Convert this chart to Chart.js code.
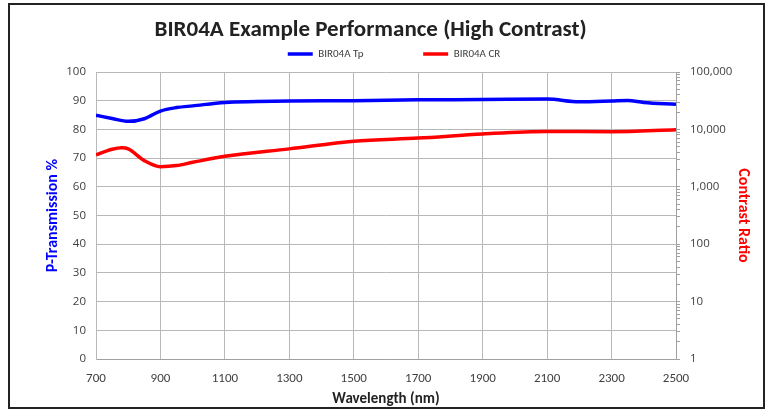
<!DOCTYPE html>
<html>
<head>
<meta charset="utf-8">
<script src="https://cdn.jsdelivr.net/npm/chart.js@4"></script>
<style>
  html, body { margin: 0; padding: 0; background: #fff; }
  #wrap { position: relative; width: 770px; height: 411px; }
  #frame { position: absolute; left: 8px; top: 3px; width: 753px; height: 402px; border: 2px solid #222; pointer-events: none; }
  canvas { position: absolute; left: 0; top: 0; }
</style>
</head>
<body>
<div id="wrap">
  <canvas id="chart" width="770" height="411"></canvas>
  <div id="frame"></div>
</div>
<script>
const tpWavelengths = [700, 750, 800, 850, 900, 950, 1000, 1100, 1200, 1300, 1500, 1700, 1900, 2100, 2200, 2300, 2350, 2400, 2500];
const tpValues = [84.9, 83.8, 82.8, 83.7, 86.4, 87.6, 88.2, 89.4, 89.7, 89.9, 90.0, 90.3, 90.4, 90.6, 89.6, 89.9, 90.1, 89.4, 88.8];

const crWavelengths = [700, 750, 780, 800, 850, 900, 950, 1000, 1100, 1300, 1500, 1700, 1900, 2100, 2300, 2500];
const crValues = [3600, 4500, 4780, 4580, 2860, 2240, 2340, 2670, 3400, 4580, 6230, 7060, 8340, 9230, 9120, 9880];

const xTicks = [700, 900, 1100, 1300, 1500, 1700, 1900, 2100, 2300, 2500];
const crMajorTicks = [1, 10, 100, 1000, 10000, 100000];

const FONT = "'Carlito', 'Liberation Sans Narrow', 'Liberation Sans', sans-serif";
const AXIS_FONT = "'Open Sans', 'Liberation Sans', sans-serif";
const TICK_COLOR = '#404040';
const GRID_COLOR = '#b8b8b8';

function pts(xs, ys) {
  return xs.map((x, i) => ({ x, y: ys[i] }));
}

new Chart(document.getElementById('chart').getContext('2d'), {
  type: 'line',
  data: {
    datasets: [{
      label: 'BIR04A Tp',
      data: pts(tpWavelengths, tpValues),
      borderColor: '#0000ff',
      backgroundColor: '#0000ff',
      borderWidth: 3.5,
      pointRadius: 0,
      cubicInterpolationMode: 'monotone',
      yAxisID: 'y'
    }, {
      label: 'BIR04A CR',
      data: pts(crWavelengths, crValues),
      borderColor: '#ff0000',
      backgroundColor: '#ff0000',
      borderWidth: 3.5,
      pointRadius: 0,
      cubicInterpolationMode: 'monotone',
      yAxisID: 'y2'
    }]
  },
  options: {
    responsive: false,
    animation: false,
    layout: { padding: { left: 30, right: 12, top: 5, bottom: 4 } },
    plugins: {
      title: {
        display: true,
        // trailing spaces nudge the centred title left like the original
        text: 'BIR04A Example Performance (High Contrast)' + ' '.repeat(9),
        color: '#222',
        font: { family: FONT, size: 23, weight: 'bold' },
        padding: { top: 11, bottom: -5 }
      },
      // tiny empty spacer between legend and plot
      subtitle: {
        display: true,
        text: '',
        weight: 500,
        font: { size: 2 },
        padding: 0
      },
      legend: {
        position: 'top',
        labels: {
          color: '#404040',
          font: { family: FONT, size: 11 },
          usePointStyle: true,
          pointStyle: 'line',
          pointStyleWidth: 25,
          padding: 10,
          generateLabels: chart => {
            const items = Chart.defaults.plugins.legend.labels.generateLabels(chart);
            // wide gap after the first entry, as in the original legend
            items[0].text += ' '.repeat(20);
            return items;
          }
        }
      },
      tooltip: { enabled: false }
    },
    scales: {
      x: {
        type: 'linear',
        min: 700,
        max: 2500,
        afterBuildTicks: s => { s.ticks = xTicks.map(v => ({ value: v })); },
        afterFit: s => { s.height = 48; },
        ticks: { color: TICK_COLOR, font: { family: FONT, size: 13 }, padding: 12, maxRotation: 0, callback: v => String(v) },
        grid: { color: GRID_COLOR, drawTicks: false },
        border: { color: '#a0a0a0' },
        title: {
          display: true,
          text: 'Wavelength (nm)',
          color: '#222',
          font: { family: FONT, size: 15, weight: 'bold' },
          padding: { top: 0, bottom: -1 }
        }
      },
      y: {
        position: 'left',
        min: 0,
        max: 100,
        afterFit: s => { s.width = 66; },
        ticks: { stepSize: 10, color: TICK_COLOR, font: { family: AXIS_FONT, size: 11.5 }, padding: 10 },
        grid: { color: GRID_COLOR, drawTicks: false },
        border: { color: GRID_COLOR },
        title: {
          display: true,
          text: 'P-Transmission %',
          color: '#0000ff',
          font: { family: FONT, size: 16, weight: 'bold' },
          padding: { top: 13, bottom: 0 }
        }
      },
      y2: {
        type: 'logarithmic',
        position: 'right',
        min: 1,
        max: 100000,
        afterFit: s => { s.width = 82; },
        afterBuildTicks: s => {
          const t = [];
          crMajorTicks.forEach((m, i) => {
            t.push({ value: m, major: true });
            if (i < crMajorTicks.length - 1) for (let k = 2; k <= 9; k++) t.push({ value: m * k });
          });
          s.ticks = t;
        },
        ticks: {
          autoSkip: false,
          color: TICK_COLOR,
          font: { family: AXIS_FONT, size: 11.5 },
          padding: 10,
          callback: v => crMajorTicks.includes(v) ? v.toLocaleString('en-US') : ''
        },
        grid: { drawOnChartArea: false, color: '#a0a0a0', tickLength: 4 },
        border: { color: '#a0a0a0' },
        title: {
          display: true,
          text: 'Contrast Ratio',
          color: '#ff0000',
          font: { family: FONT, size: 16, weight: 'bold' },
          padding: { top: 5, bottom: 0 }
        }
      }
    }
  }
});
</script>
</body>
</html>
